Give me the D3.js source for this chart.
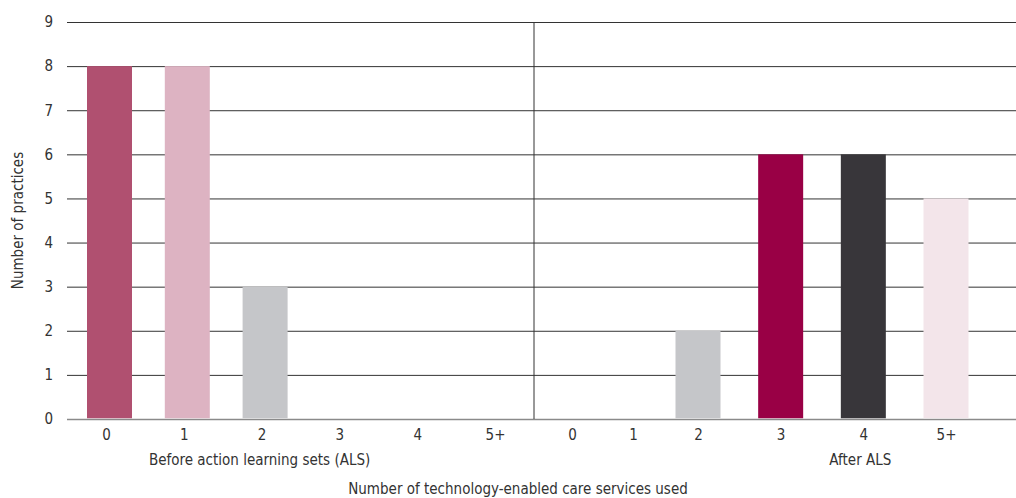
<!DOCTYPE html>
<html>
<head>
<meta charset="utf-8">
<script src="https://cdn.jsdelivr.net/npm/d3@7"></script>
<style>
  html, body { margin: 0; padding: 0; background: #fff; }
  svg { display: block; }
  text { font-family: "DejaVu Sans Condensed", "Roboto", sans-serif; fill: #333; }
</style>
</head>
<body>
<svg id="chart" width="1016" height="498"></svg>
<script>
// ---- data ----
const categories = ["0", "1", "2", "3", "4", "5+"];
const beforeValues = [8, 8, 3, 0, 0, 0];
const afterValues = [0, 0, 2, 6, 6, 5];
const beforeColors = ["#b05070", "#ddb3c2", "#c5c6c9", "#c5c6c9", "#c5c6c9", "#c5c6c9"];
const afterColors = ["#c5c6c9", "#c5c6c9", "#c5c6c9", "#990045", "#38363a", "#f3e5ea"];
const yTicks = [0, 1, 2, 3, 4, 5, 6, 7, 8, 9];
const groupLabels = ["Before action learning sets (ALS)", "After ALS"];
const xTitle = "Number of technology-enabled care services used";
const yTitle = "Number of  practices";

// ---- layout ----
const W = 1016, H = 498;
const plotLeft = 67, plotRight = 1016, plotTop = 22, plotBottom = 419;
const dividerX = 534;
const barW = 45;
const fs = "15px";

const svg = d3.select("#chart");

const y = d3.scaleLinear().domain([0, 9]).range([plotBottom, plotTop]);
const xBefore = d3.scalePoint().domain(categories).range([106, 495]);
const xAfter = d3.scaleLinear().domain([0, 1, 2, 5]).range([572, 633, 698, 946]);

// gridlines + y labels
const yAxis = svg.append("g")
  .attr("transform", `translate(${plotLeft},0)`)
  .call(d3.axisLeft(y).tickValues(yTicks).tickSize(-(plotRight - plotLeft)).tickPadding(14).tickFormat(d3.format("d")));
yAxis.select(".domain").remove();
yAxis.selectAll(".tick line").attr("stroke", "#333").attr("stroke-width", 1);
yAxis.selectAll(".tick").filter(d => d === 0).select("line").attr("stroke", "#8a8a8a").attr("stroke-width", 1.5);
yAxis.selectAll(".tick text").style("font-size", fs).attr("fill", "#333");

// divider
svg.append("line")
  .attr("x1", dividerX).attr("x2", dividerX)
  .attr("y1", y(9)).attr("y2", y(0))
  .attr("stroke", "#333").attr("stroke-width", 1);

// bars
svg.append("g").selectAll("rect")
  .data(categories.map((c, i) => ({ c, v: beforeValues[i], col: beforeColors[i] })).filter(d => d.v > 0))
  .join("rect")
  .attr("x", d => xBefore(d.c) - barW / 2 + 3.5)
  .attr("width", barW)
  .attr("y", d => y(d.v))
  .attr("height", d => y(0) - y(d.v) - 0.75)
  .attr("fill", d => d.col);

svg.append("g").selectAll("rect")
  .data(categories.map((c, i) => ({ i, v: afterValues[i], col: afterColors[i] })).filter(d => d.v > 0))
  .join("rect")
  .attr("x", d => xAfter(d.i) - barW / 2)
  .attr("width", barW)
  .attr("y", d => y(d.v))
  .attr("height", d => y(0) - y(d.v) - 0.75)
  .attr("fill", d => d.col);

// x tick labels
const axB = svg.append("g").attr("transform", `translate(0,${plotBottom})`)
  .call(d3.axisBottom(xBefore).tickSize(0).tickPadding(10));
axB.select(".domain").remove();
axB.selectAll(".tick text").style("font-size", fs).attr("fill", "#333");

const axA = svg.append("g").attr("transform", `translate(0,${plotBottom})`)
  .call(d3.axisBottom(xAfter).tickValues(d3.range(categories.length)).tickFormat(i => categories[i]).tickSize(0).tickPadding(10));
axA.select(".domain").remove();
axA.selectAll(".tick text").style("font-size", fs).attr("fill", "#333");

// group labels
svg.append("text").attr("x", xBefore("2") - 2).attr("y", 465)
  .attr("text-anchor", "middle").style("font-size", fs).text(groupLabels[0]);
svg.append("text").attr("x", xAfter(4) - 3).attr("y", 465)
  .attr("text-anchor", "middle").style("font-size", fs).text(groupLabels[1]);

// axis titles
svg.append("text").attr("x", 518).attr("y", 494)
  .attr("text-anchor", "middle").style("font-size", fs).text(xTitle);
svg.append("text")
  .attr("transform", `translate(23,${(plotTop + plotBottom) / 2}) rotate(-90)`)
  .attr("text-anchor", "middle").style("font-size", fs).text(yTitle);
</script>
</body>
</html>
